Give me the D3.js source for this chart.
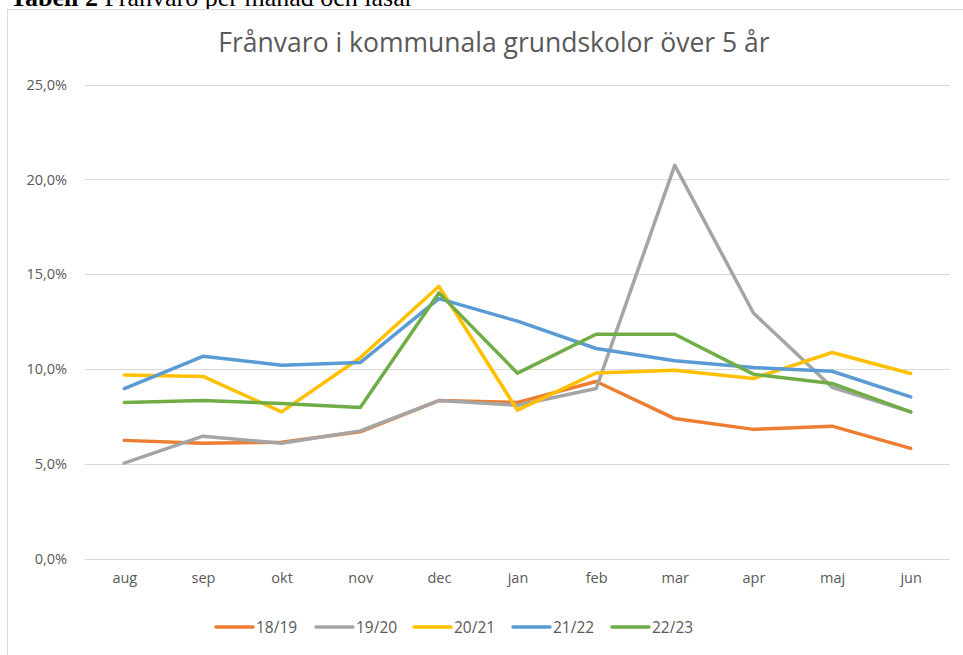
<!DOCTYPE html>
<html><head><meta charset="utf-8">
<script src="https://cdn.jsdelivr.net/npm/d3@7"></script>
<style>body{margin:0;background:#fff;overflow:hidden}</style>
</head><body>
<script>
const months = ["aug","sep","okt","nov","dec","jan","feb","mar","apr","maj","jun"];
const seriesNames = ["18/19","19/20","20/21","21/22","22/23"];
const s1819 = [6.25,6.1,6.15,6.7,8.35,8.25,9.35,7.4,6.83,7.0,5.83];
const s1920 = [5.05,6.47,6.1,6.75,8.35,8.1,8.98,20.74,12.96,9.05,7.75];
const s2021 = [9.7,9.62,7.75,10.6,14.37,7.84,9.8,9.95,9.51,10.88,9.77];
const s2122 = [8.98,10.68,10.21,10.35,13.72,12.53,11.09,10.44,10.09,9.89,8.54];
const s2223 = [8.25,8.35,8.19,7.98,14.02,9.79,11.84,11.84,9.74,9.25,7.75];
const colors = ["#ed7d31","#a5a5a5","#ffc000","#5b9bd5","#70ad47"];
const yTicks = [0,5,10,15,20,25];
const allSeries = [s1819,s1920,s2021,s2122,s2223];

const W = 963, H = 655;
const svg = d3.select("body").append("svg").attr("width",W).attr("height",H);

// caption (clipped at top, as in the reference)
svg.append("text").attr("x",10).attr("y",6)
  .attr("font-family","Liberation Serif, Times New Roman, serif").attr("font-size",26).attr("fill","#000")
  .html('<tspan font-weight="bold">Tabell 2</tspan> Frånvaro per månad och läsår');

// chart frame
svg.append("rect").attr("x",7.5).attr("y",9.5).attr("width",W).attr("height",H)
  .attr("fill","#fff").attr("stroke","#d9d9d9").attr("stroke-width",1);

const x = d3.scalePoint().domain(months).range([85,950]).padding(0.5);
const y = d3.scaleLinear().domain([0,25]).range([559,84.5]);

const font = "'Open Sans', Lato, sans-serif";

// gridlines
svg.append("g").selectAll("line").data(yTicks).join("line")
  .attr("x1",85).attr("x2",950)
  .attr("y1",d=>Math.round(y(d))+0.5).attr("y2",d=>Math.round(y(d))+0.5)
  .attr("stroke","#d9d9d9").attr("stroke-width",1);

// y axis labels
const yAxis = d3.axisLeft(y).tickValues(yTicks).tickSize(0).tickPadding(0)
  .tickFormat(d=>d3.format(".1f")(d).replace(".",",")+"%");
const gy = svg.append("g").attr("transform","translate(67,0)").call(yAxis);
gy.select(".domain").remove();
gy.selectAll("text").attr("font-family",font).attr("font-size",14.5).attr("fill","#595959");

// x axis labels
const xAxis = d3.axisBottom(x).tickSize(0).tickPadding(0);
const gx = svg.append("g").attr("transform","translate(0,573)").call(xAxis);
gx.select(".domain").remove();
gx.selectAll("text").attr("font-family",font).attr("font-size",14.5).attr("fill","#595959");

// lines
const line = d3.line().x((d,i)=>x(months[i])).y(d=>y(d));
svg.append("g").selectAll("path").data(allSeries).join("path")
  .attr("d",line).attr("fill","none")
  .attr("stroke",(d,i)=>colors[i]).attr("stroke-width",3.5)
  .attr("stroke-linejoin","round").attr("stroke-linecap","round");

// title
svg.append("text").attr("x",494).attr("y",52).attr("text-anchor","middle")
  .attr("font-family",font).attr("font-size",26.5).attr("fill","#595959")
  .text("Frånvaro i kommunala grundskolor över 5 år");

// legend
const legX = [216,316,414,513,612];
const lg = svg.append("g").selectAll("g").data(seriesNames).join("g")
  .attr("transform",(d,i)=>`translate(${legX[i]},627)`);
lg.append("line").attr("x1",0).attr("x2",37).attr("y1",0).attr("y2",0)
  .attr("stroke",(d,i)=>colors[i]).attr("stroke-width",3.5).attr("stroke-linecap","round");
lg.append("text").attr("x",40).attr("y",5.5).attr("font-family",font).attr("font-size",15.5)
  .attr("fill","#595959").text(d=>d);
</script>
</body></html>
